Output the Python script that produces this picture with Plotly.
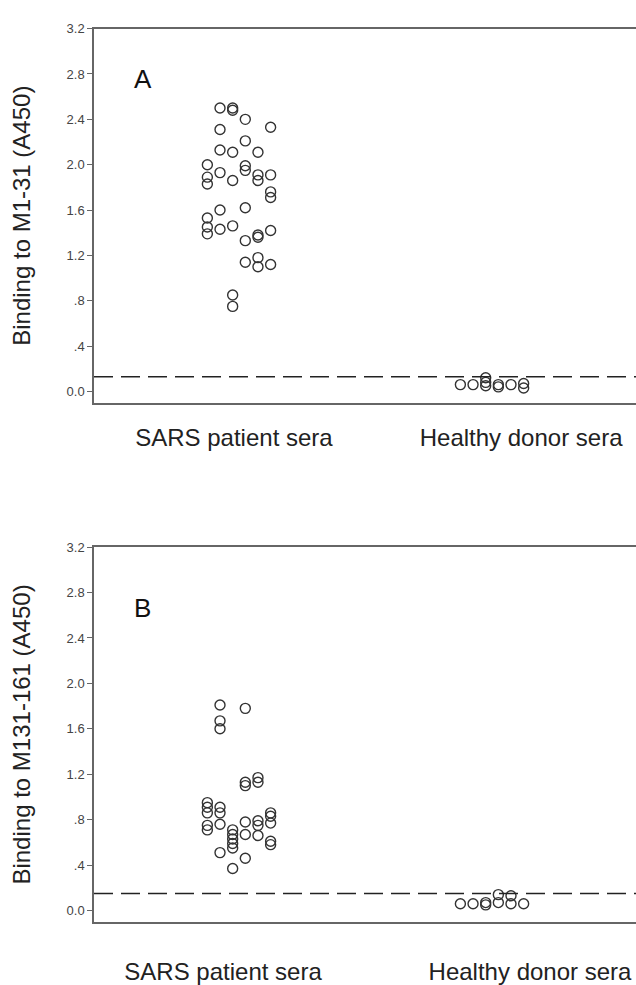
import plotly.graph_objects as go

# ---------------- data ----------------
groups = ["SARS patient sera", "Healthy donor sera"]
ytick_vals = [0.0, 0.4, 0.8, 1.2, 1.6, 2.0, 2.4, 2.8, 3.2]
ytick_text = ["0.0", ".4", ".8", "1.2", "1.6", "2.0", "2.4", "2.8", "3.2"]

# column offsets of the dot plot (jitter columns within a group)
col_offsets = [-0.125, -0.075, -0.025, 0.025, 0.075, 0.125]

# Panel A: binding to M1-31 (A450); SARS patient sera, by column
a_sars_col = [0, 0, 0, 0, 0, 0,
              1, 1, 1, 1, 1, 1,
              2, 2, 2, 2, 2, 2, 2,
              3, 3, 3, 3, 3, 3, 3,
              4, 4, 4, 4, 4, 4, 4,
              5, 5, 5, 5, 5, 5]
a_sars_val = [2.00, 1.89, 1.83, 1.53, 1.45, 1.39,
              2.50, 2.31, 2.13, 1.93, 1.60, 1.43,
              2.50, 2.48, 2.11, 1.86, 1.46, 0.85, 0.75,
              2.40, 2.21, 1.99, 1.95, 1.62, 1.33, 1.14,
              2.11, 1.91, 1.86, 1.38, 1.36, 1.18, 1.10,
              2.33, 1.91, 1.76, 1.71, 1.42, 1.12]
# Panel A: healthy donor sera
a_healthy_col = [0, 1, 2, 2, 2, 3, 3, 4, 5, 5]
a_healthy_val = [0.06, 0.06, 0.12, 0.08, 0.05, 0.06, 0.04, 0.06, 0.07, 0.03]
a_cutoff = 0.13

# Panel B: binding to M131-161 (A450); SARS patient sera
b_sars_col = [0, 0, 0, 0, 0,
              1, 1, 1, 1, 1, 1, 1,
              2, 2, 2, 2, 2, 2,
              3, 3, 3, 3, 3, 3,
              4, 4, 4, 4, 4,
              5, 5, 5, 5, 5]
b_sars_val = [0.95, 0.91, 0.86, 0.75, 0.71,
              1.81, 1.67, 1.60, 0.91, 0.86, 0.76, 0.51,
              0.71, 0.67, 0.63, 0.59, 0.55, 0.37,
              1.78, 1.13, 1.10, 0.78, 0.67, 0.46,
              1.17, 1.13, 0.79, 0.75, 0.66,
              0.86, 0.83, 0.77, 0.61, 0.58]
# Panel B: healthy donor sera
b_healthy_col = [0, 1, 2, 2, 3, 3, 4, 4, 5]
b_healthy_val = [0.06, 0.06, 0.05, 0.07, 0.14, 0.07, 0.13, 0.06, 0.06]
b_cutoff = 0.15

a_title = "Binding to M1-31 (A450)"
b_title = "Binding to M131-161 (A450)"

# ---------------- figure ----------------
W, H = 636, 985
FONT = "Liberation Sans, Arial, Helvetica, sans-serif"
axis_col = "#666666"

fig = go.Figure()


def xs(group_index, cols):
    return [group_index + 1 + col_offsets[c] for c in cols]


marker = dict(symbol="circle-open", size=10, color="#333333",
              line=dict(width=1.4, color="#333333"))

panels = [
    ("x", "y", a_sars_col, a_sars_val, a_healthy_col, a_healthy_val),
    ("x2", "y2", b_sars_col, b_sars_val, b_healthy_col, b_healthy_val),
]
for xa, ya, sc, sv, hc, hv in panels:
    fig.add_trace(go.Scatter(x=xs(0, sc), y=sv, mode="markers", marker=marker,
                             xaxis=xa, yaxis=ya, showlegend=False))
    fig.add_trace(go.Scatter(x=xs(1, hc), y=hv, mode="markers", marker=marker,
                             xaxis=xa, yaxis=ya, showlegend=False))

# cut-off lines
for xd, ya, cut in (("x domain", "y", a_cutoff), ("x2 domain", "y2", b_cutoff)):
    fig.add_shape(type="line", xref=xd, yref=ya, x0=0, x1=1, y0=cut, y1=cut,
                  line=dict(color="#222222", width=1.5, dash="19px,8px"))

xrange = [0.427, 2.569]
yrange = [-0.1, 3.2]

common_x = dict(range=xrange, showline=True, linecolor=axis_col, linewidth=1.5,
                mirror=True, ticks="", showgrid=False, zeroline=False,
                tickfont=dict(family=FONT, size=24, color="#222222"),
                tickmode="array")
common_y = dict(range=yrange, showline=True, linecolor=axis_col, linewidth=1.5,
                ticks="outside", ticklen=5, tickwidth=1, tickcolor=axis_col,
                showgrid=False, zeroline=False, tickmode="array",
                tickvals=ytick_vals, ticktext=ytick_text,
                tickfont=dict(family=FONT, size=13, color="#444444"))

fig.update_layout(
    width=W, height=H,
    margin=dict(l=94, r=0, t=0, b=0),
    paper_bgcolor="white", plot_bgcolor="white",
    xaxis=dict(common_x, domain=[0, 1], anchor="y",
               tickvals=[0.98, 2.115], ticktext=groups, ticklabelstandoff=13),
    yaxis=dict(common_y, domain=[1 - 402.3 / H, 1 - 22 / H], anchor="x",
               title=dict(text=a_title, standoff=29,
                          font=dict(family=FONT, size=24, color="#222222"))),
    xaxis2=dict(common_x, domain=[0, 1], anchor="y2",
                tickvals=[0.937, 2.15], ticktext=groups, ticklabelstandoff=28),
    yaxis2=dict(common_y, domain=[1 - 930 / H, 1 - 549 / H], anchor="x2",
                title=dict(text=b_title, standoff=29,
                           font=dict(family=FONT, size=24, color="#222222"))),
)

# panel letters
fig.add_annotation(text="A", x=0.62, y=2.76, xref="x", yref="y", showarrow=False,
                   font=dict(family=FONT, size=26, color="#111111"))
fig.add_annotation(text="B", x=0.62, y=2.66, xref="x2", yref="y2", showarrow=False,
                   font=dict(family=FONT, size=26, color="#111111"))

fig.write_html("out.html")
